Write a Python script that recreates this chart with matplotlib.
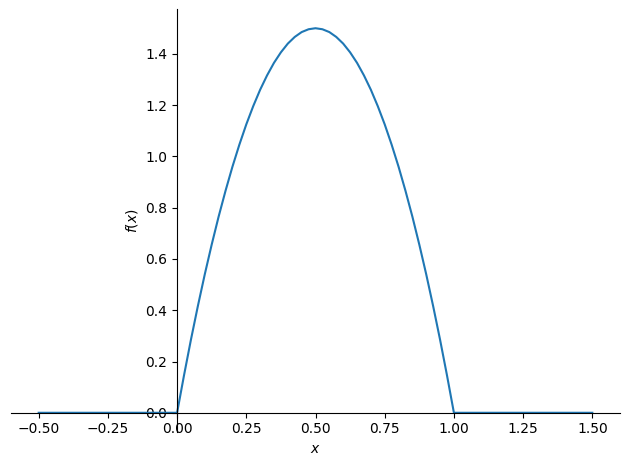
import matplotlib
matplotlib.use("Agg")
import matplotlib.pyplot as plt

# points
x_vals = [-0.5, 0.0, 0.025, 0.05, 0.075, 0.1, 0.125, 0.15, 0.175, 0.2, 0.225, 0.25,
          0.275, 0.3, 0.325, 0.35, 0.375, 0.4, 0.425, 0.45, 0.475, 0.5,
          0.525, 0.55, 0.575, 0.6, 0.625, 0.65, 0.675, 0.7, 0.725, 0.75,
          0.775, 0.8, 0.825, 0.85, 0.875, 0.9, 0.925, 0.95, 0.975, 1.0, 1.5]
f_vals = [0.0, 0.0, 0.146, 0.285, 0.416, 0.54, 0.656, 0.765, 0.866, 0.96, 1.046, 1.125,
          1.196, 1.26, 1.316, 1.365, 1.406, 1.44, 1.466, 1.485, 1.496, 1.5,
          1.496, 1.485, 1.466, 1.44, 1.406, 1.365, 1.316, 1.26, 1.196, 1.125,
          1.046, 0.96, 0.866, 0.765, 0.656, 0.54, 0.416, 0.285, 0.146, 0.0, 0.0]

fig, ax = plt.subplots(figsize=(6.3, 4.67), dpi=100)
ax.plot(x_vals, f_vals, color="#1f77b4")

ax.spines["left"].set_position("zero")
ax.spines["bottom"].set_position("zero")
ax.spines["right"].set_visible(False)
ax.spines["top"].set_visible(False)

ax.set_xlabel("$x$")
ax.set_ylabel("$f(x)$")

fig.subplots_adjust(left=11 / 630, right=620 / 630, top=1 - 9 / 467, bottom=1 - 432 / 467)
fig.savefig("out.png", dpi=100)
